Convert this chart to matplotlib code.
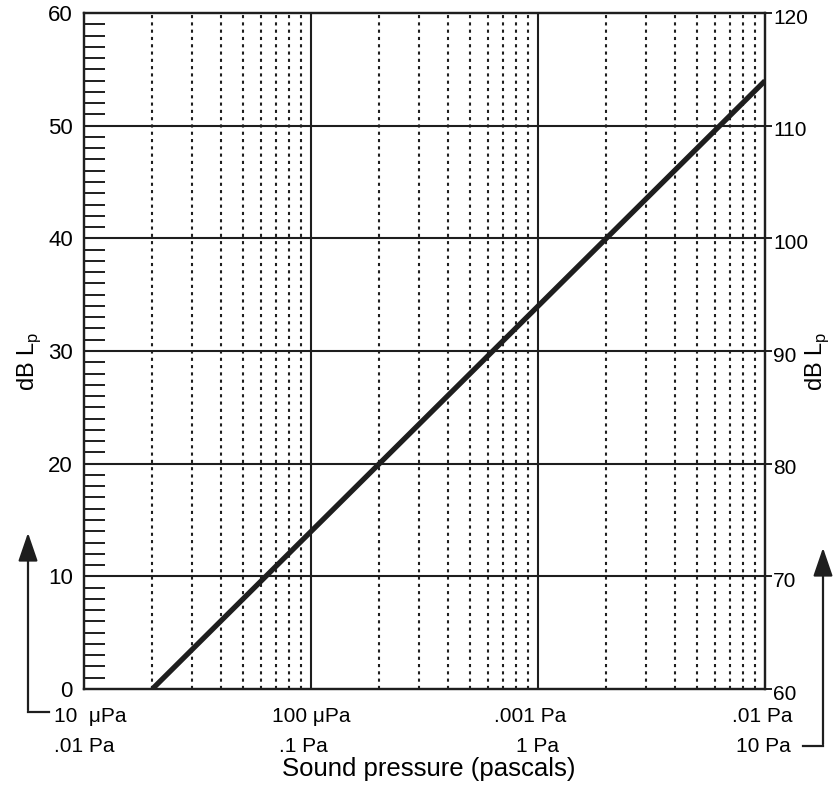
import matplotlib
matplotlib.use("Agg")
import matplotlib.pyplot as plt
import matplotlib.transforms as mtransforms
from matplotlib.lines import Line2D
from matplotlib.patches import FancyArrowPatch

plt.rcParams['font.family'] = ['Liberation Sans', 'DejaVu Sans']
plt.rcParams['mathtext.fontset'] = 'custom'
plt.rcParams['mathtext.rm'] = 'Liberation Sans'

# Data
pressure_pa = [2e-5, 1e-2]          # sound pressure (Pa)
level_db = [0.0, 53.98]             # dB Lp
x_major = [1e-5, 1e-4, 1e-3, 1e-2]
row1_labels = ["10  \u03bcPa", "100 \u03bcPa", ".001 Pa", ".01 Pa"]
row2_labels = [".01 Pa", ".1 Pa", "1 Pa", "10 Pa"]
left_ticks = [0, 10, 20, 30, 40, 50, 60]
right_ticks = [60, 70, 80, 90, 100, 110, 120]

W, H = 834, 786
fig = plt.figure(figsize=(W / 100, H / 100), dpi=100)
L, R, T, B = 84, 765, 13, 689
ax = fig.add_axes([L / W, 1 - B / H, (R - L) / W, (B - T) / H])
ax.set_xscale('log')
ax.set_xlim(1e-5, 1e-2)
ax.set_ylim(0, 60)

INK = '#1e1e1e'
FS = 15

# grid
minor_x = [m * d for d in [1e-5, 1e-4, 1e-3] for m in range(2, 10)]
for xm in minor_x:
    ax.axvline(xm, color=INK, lw=1.5, ls=(0, (1.5, 2.0)), zorder=1)
for xM in x_major[1:-1]:
    ax.axvline(xM, color=INK, lw=1.5, zorder=1)
for yv in left_ticks[1:-1]:
    ax.axhline(yv, color=INK, lw=1.5, zorder=1)

ax.plot(pressure_pa, level_db, color=INK, lw=3.8, solid_capstyle='butt', zorder=3)

for s in ax.spines.values():
    s.set_linewidth(1.6)
    s.set_color(INK)

ax.set_xticks([])
ax.xaxis.set_minor_locator(matplotlib.ticker.NullLocator())
ax.set_yticks(left_ticks)
ax.set_yticklabels([str(v) for v in left_ticks], fontsize=16)
ax.tick_params(axis='y', which='major', length=0, pad=8)
ax.set_yticks([v for v in range(1, 60) if v % 10 != 0], minor=True)
ax.tick_params(axis='y', which='minor', direction='in', length=15, width=1.4, color=INK)

ax2 = ax.twinx()
ax2.set_ylim(60, 120)
ax2.set_yticks(right_ticks)
ax2.set_yticklabels([str(v) for v in right_ticks], fontsize=FS)
ax2.tick_params(axis='y', length=5, width=1.4, pad=1, color=INK)
off = mtransforms.ScaledTranslation(0, -0.03, fig.dpi_scale_trans)
for lab in ax2.get_yticklabels():
    lab.set_transform(lab.get_transform() + off)
for s in ax2.spines.values():
    s.set_linewidth(1.6)
    s.set_color(INK)

# x labels (two rows)
for xv, l1, d in zip(x_major, row1_labels, [6, 0, -8, -3]):
    xp = ax.transData.transform((xv, 1))[0]
    fig.text((xp + d) / W, 1 - 716 / H, l1, ha='center', va='center', fontsize=FS)
for xv, l2, d in zip(x_major, row2_labels, [0, -8, 0, -2]):
    xp = ax.transData.transform((xv, 1))[0]
    fig.text((xp + d) / W, 1 - 746 / H, l2, ha='center', va='center', fontsize=FS)

fig.text(429 / W, 1 - 769 / H, "Sound pressure (pascals)", ha='center', va='center', fontsize=18.5)
fig.text(29 / W, 1 - 361 / H, "dB L$_\\mathrm{p}$", rotation=90, ha='center', va='center', fontsize=17)
fig.text(817 / W, 1 - 361 / H, "dB L$_\\mathrm{p}$", rotation=90, ha='center', va='center', fontsize=17)

def fp(x, y):
    return (x / W, 1 - y / H)

# left bracket arrow
fig.add_artist(Line2D([28 / W, 49 / W], [1 - 712 / H, 1 - 712 / H], color=INK, lw=1.6, transform=fig.transFigure))
fig.add_artist(FancyArrowPatch(fp(28, 713), fp(28, 530), transform=fig.transFigure,
                               arrowstyle='-|>,head_length=7,head_width=2.4', lw=1.6, color=INK, mutation_scale=2.5))
# right bracket arrow
fig.add_artist(Line2D([803 / W, 823 / W], [1 - 746 / H, 1 - 746 / H], color=INK, lw=1.6, transform=fig.transFigure))
fig.add_artist(FancyArrowPatch(fp(823, 747), fp(823, 545), transform=fig.transFigure,
                               arrowstyle='-|>,head_length=7,head_width=2.4', lw=1.6, color=INK, mutation_scale=2.5))

fig.savefig("out.png", dpi=100)
